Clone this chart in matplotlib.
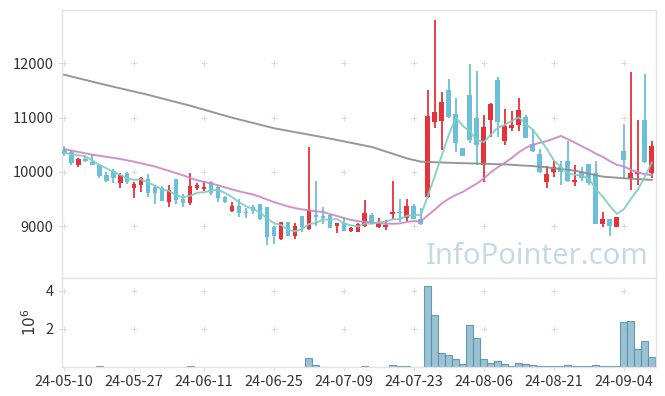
import matplotlib
matplotlib.use('Agg')
import matplotlib.pyplot as plt
import numpy as np
import pandas as pd

# ---------------- data ----------------
dates = (
    ['2024-05-%02d' % d for d in [10, 13, 14, 16, 17, 20, 21, 22, 23, 24, 27, 28, 29, 30, 31]] +
    ['2024-06-%02d' % d for d in [3, 4, 5, 7, 10, 11, 12, 13, 14, 17, 18, 19, 20, 21, 24, 25, 26, 27, 28]] +
    ['2024-07-%02d' % d for d in [1, 2, 3, 4, 5, 8, 9, 10, 11, 12, 15, 16, 17, 18, 19, 22, 23, 24, 25, 26, 29, 30, 31]] +
    ['2024-08-%02d' % d for d in [1, 2, 5, 6, 7, 8, 9, 12, 13, 14, 16, 19, 20, 21, 22, 23, 26, 27, 28, 29, 30]] +
    ['2024-09-%02d' % d for d in [2, 3, 4, 5, 6, 9, 10]]
)

opens = [10405, 10370, 10120, 10230, 10180, 10130, 9945, 10020, 9805, 9975,
         9710, 9760, 9870, 9730, 9700, 9455, 9870, 9505, 9435, 9700,
         9685, 9820, 9720, 9535, 9290, 9380, 9270, 9350, 9410, 9350,
         8995, 8760, 9075, 8830, 9190, 8950, 9210, 9190, 9210, 9010,
         9055, 8920, 8900, 9010, 9210, 8995, 8995, 9235, 9270, 9150,
         9375, 9135, 9545, 10925, 10945, 11500, 11060, 10440, 11415, 11000,
         10130, 10950, 11700, 10570, 10815, 10865, 11010, 10520, 10335, 9820,
         9995, 10085, 10200, 9820, 10005, 10145, 9975, 9045, 9135, 8995,
         10385, 9895, 9965, 10955, 9990]
highs = [10480, 10400, 10260, 10290, 10330, 10140, 10000, 10050, 9975, 10005,
         9820, 9915, 9960, 9760, 9740, 9760, 9870, 9600, 9980, 9800,
         9830, 9830, 9740, 9560, 9445, 9500, 9330, 9390, 9410, 9350,
         9000, 9080, 9080, 9055, 9190, 10465, 9835, 9350, 9215, 9070,
         9175, 8995, 9070, 9485, 9240, 9145, 9115, 9835, 9500, 9510,
         9420, 9345, 11510, 12800, 11480, 11720, 11355, 10450, 11980, 11850,
         11050, 11270, 11740, 11150, 11120, 11360, 11040, 10800, 10415, 10115,
         10210, 10200, 10565, 10130, 10090, 10150, 10210, 9260, 9140, 9175,
         10890, 11845, 10960, 11800, 10565]
lows = [10300, 10130, 10100, 10180, 10130, 9885, 9820, 9805, 9710, 9775,
        9515, 9640, 9540, 9410, 9460, 9350, 9410, 9350, 9390, 9670,
        9650, 9580, 9440, 9430, 9270, 9180, 9150, 9225, 9120, 8655,
        8670, 8750, 8825, 8760, 8900, 8935, 9005, 9045, 8970, 8870,
        8915, 8890, 8895, 8995, 9040, 8975, 8935, 9115, 9085, 9105,
        9130, 9020, 9515, 10805, 10405, 10990, 10375, 10290, 10525, 10120,
        9820, 10650, 10650, 10490, 10750, 10750, 10620, 10375, 9975, 9705,
        9905, 9760, 9820, 9750, 9835, 9760, 9040, 8995, 8815, 8990,
        9880, 9670, 9760, 10160, 9885]
closes = [10330, 10160, 10240, 10210, 10135, 9930, 9840, 9895, 9945, 9820,
          9780, 9885, 9620, 9620, 9470, 9670, 9485, 9435, 9740, 9760,
          9720, 9620, 9530, 9445, 9380, 9250, 9240, 9285, 9135, 8810,
          8830, 9075, 8830, 9005, 8995, 9310, 9165, 9160, 8975, 9065,
          8920, 8975, 9045, 9250, 9055, 9065, 9025, 9270, 9240, 9375,
          9130, 9035, 11030, 11100, 11280, 11020, 10540, 10300, 10580, 10500,
          10830, 11245, 10920, 10845, 10870, 11140, 10630, 10390, 10005, 9960,
          10085, 10005, 9840, 9850, 9885, 9800, 9045, 9135, 9005, 9165,
          10220, 9990, 10005, 10175, 10475]
volumes = [10000, 10000, 10000, 10000, 10000, 40000, 10000, 10000, 10000, 10000,
           10000, 10000, 10000, 10000, 10000, 10000, 10000, 10000, 40000, 10000,
           10000, 10000, 10000, 10000, 10000, 10000, 10000, 10000, 10000, 10000,
           10000, 10000, 10000, 10000, 10000, 460000, 90000, 10000, 10000, 10000,
           10000, 10000, 10000, 35000, 10000, 10000, 10000, 100000, 40000, 40000,
           15000, 15000, 4260000, 2740000, 740000, 630000, 420000, 140000, 2210000, 1530000,
           420000, 210000, 320000, 160000, 50000, 210000, 160000, 100000, 50000, 50000,
           50000, 50000, 100000, 50000, 50000, 50000, 100000, 50000, 50000, 30000,
           2370000, 2420000, 950000, 1370000, 530000]

# moving-average values read from the chart where earlier history is not shown
ma5_head = [10350, 10330, 10310, 10290]
ma20_head = [10420, 10395, 10370, 10345, 10320, 10300, 10280, 10260, 10240, 10215,
             10190, 10160, 10130, 10100, 10060, 10020, 9980, 9940, 9890]
ma_long_idx = [0, 6, 12, 18, 24, 30, 37, 44, 49, 51, 55, 63, 68, 73, 77, 80, 84]
ma_long_val = [11790, 11600, 11420, 11220, 11000, 10805, 10640, 10460, 10250, 10190,
               10170, 10140, 10100, 10025, 9915, 9885, 9855]

watermark = 'InfoPointer.com'

# ---------------- derived ----------------
n = len(closes)
x = np.arange(n)
o = np.array(opens, float); h = np.array(highs, float)
l = np.array(lows, float); c = np.array(closes, float)
cs = pd.Series(c)
ma5 = cs.rolling(5).mean().values
ma5[:len(ma5_head)] = ma5_head
ma20 = cs.rolling(20).mean().values
ma20[:len(ma20_head)] = ma20_head

tick_pos = list(range(0, n, 10))
tick_labels = [dates[i][2:] for i in tick_pos]

RED = '#e8323a'
BLUE = '#6cbfd8'
up = c >= o
colors = np.where(up, RED, BLUE)

plt.rcParams['font.family'] = ['Noto Sans CJK KR', 'DejaVu Sans']

fig = plt.figure(figsize=(6.65, 3.96), dpi=100)
ax = fig.add_axes([0.0932, 0.298, 0.8933, 0.6767])
axv = fig.add_axes([0.0932, 0.0732, 0.8933, 0.2248])

# price panel
ax.vlines(x, l, h, colors=colors, linewidth=1.3, zorder=2)
body_h = np.maximum(np.abs(c - o), 18)
ax.bar(x, body_h, bottom=np.minimum(o, c), width=0.7, color=colors, linewidth=0, zorder=3)
ax.plot(ma_long_idx, ma_long_val, color='#8c8c8c', lw=1.4, alpha=0.9, zorder=4)
ax.plot(x, ma20, color='#cc85c6', lw=1.4, alpha=0.9, zorder=4)
ax.plot(x, ma5, color='#7ecdc2', lw=1.4, alpha=0.9, zorder=4)

ax.set_xlim(-0.3, 84.6)
ax.set_ylim(8050, 12980)
yt = [9000, 10000, 11000, 12000]
ax.set_yticks(yt)
ax.set_yticklabels([str(v) for v in yt])
ax.set_xticks(tick_pos)
ax.set_xticklabels([])
gx, gy = np.meshgrid(tick_pos, yt)
ax.scatter(gx.ravel(), gy.ravel(), marker='+', s=14, color='#dcdcdc', linewidths=0.8, zorder=1)

# volume panel
axv.bar(x, volumes, width=1.0, color='#8fbccf', edgecolor='#5a92ad', linewidth=0.8, alpha=0.9, zorder=2)
axv.set_xlim(-0.3, 84.6)
axv.set_ylim(0, 4.67e6)
axv.set_yticks([2e6, 4e6])
axv.set_yticklabels(['2', '4'])
axv.set_xticks(tick_pos)
axv.set_xticklabels(tick_labels)
axv.set_ylabel(r'$10^6$', fontsize=11, color='#333333', labelpad=4)
gx2, gy2 = np.meshgrid(tick_pos, [2e6, 4e6])
axv.scatter(gx2.ravel(), gy2.ravel(), marker='+', s=14, color='#dcdcdc', linewidths=0.8, zorder=1)

for a in (ax, axv):
    for s in a.spines.values():
        s.set_color('#e3e3e3')
        s.set_linewidth(1.0)
    a.tick_params(axis='both', length=3, width=0.8, color='#dddddd', labelsize=10.5,
                  labelcolor='#333333', pad=3)

fig.text(0.808, 0.353, watermark, fontsize=21, color='#c6dae6', ha='center', va='center',
         family=['Noto Sans', 'DejaVu Sans'], zorder=0)

fig.savefig('out.png', dpi=100)
